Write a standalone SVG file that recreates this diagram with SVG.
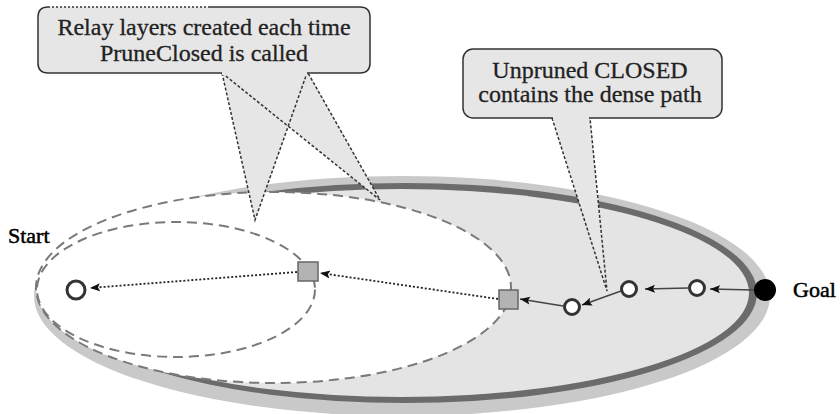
<svg xmlns="http://www.w3.org/2000/svg" width="840" height="414" viewBox="0 0 840 414">
<defs>
<style>
.txt{font-family:"Liberation Serif","Times New Roman",serif;fill:#222;stroke:#222;stroke-width:0.3;}
.lbl{font-family:"Liberation Serif","Times New Roman",serif;fill:#000;font-size:22px;stroke:#000;stroke-width:0.5;}
.dash{fill:#fff;stroke:#7a7a7a;stroke-width:2;stroke-dasharray:10 6;}
.dot{fill:none;stroke:#222;stroke-width:1.8;stroke-dasharray:2 2;}
.sol{fill:none;stroke:#444;stroke-width:1.5;}
.ring{fill:#fff;stroke:#333;stroke-width:3;}
.sq{fill:#b3b3b3;stroke:#666;stroke-width:1.5;}
.box{fill:#e6e6e6;stroke:#333;stroke-width:1.5;}
.tail{fill:#e6e6e6;stroke:none;}
.tline{fill:none;stroke:#333;stroke-width:1.5;stroke-dasharray:3 2;}
</style>
<marker id="ah" viewBox="0 0 10 10" refX="10" refY="5" markerWidth="10" markerHeight="10" markerUnits="userSpaceOnUse" orient="auto">
<path d="M0,1 L10,5 L0,9 L2,5 Z" fill="#111"/>
</marker>
</defs>

<g id="search-region">
<ellipse cx="402" cy="296" rx="368" ry="120" fill="#c9c9c9"/>
<ellipse cx="405" cy="293" rx="352" ry="110" fill="#6b6b6b"/>
<ellipse cx="401" cy="293" rx="348" ry="104" fill="#e4e4e4"/>
</g>

<g id="relay-layer-outer">
<ellipse class="dash" cx="273.5" cy="287.5" rx="237.5" ry="95.5"/>
</g>
<g id="relay-layer-inner">
<ellipse class="dash" cx="176" cy="289.5" rx="139" ry="67.5"/>
</g>

<g id="connectors">
<line class="sol" x1="754" y1="290" x2="710" y2="289" marker-end="url(#ah)"/>
<line class="sol" x1="688" y1="288" x2="645" y2="289" marker-end="url(#ah)"/>
<line class="sol" x1="621" y1="291" x2="582" y2="305" marker-end="url(#ah)"/>
<line class="sol" x1="563" y1="306" x2="520" y2="299" marker-end="url(#ah)"/>
<line class="dot" x1="498" y1="299" x2="320" y2="273" marker-end="url(#ah)"/>
<line class="dot" x1="297" y1="272" x2="90" y2="288" marker-end="url(#ah)"/>
</g>

<g id="start">
<circle class="ring" cx="76" cy="290" r="9" stroke="#111"/>
<text class="lbl" x="8" y="243">Start</text>
</g>
<g id="relay1"><rect class="sq" x="298" y="262" width="20" height="19"/></g>
<g id="relay2"><rect class="sq" x="499" y="290" width="19" height="19"/></g>
<g id="node1"><circle class="ring" cx="572" cy="307" r="7.5"/></g>
<g id="node2"><circle class="ring" cx="629" cy="289" r="7.5"/></g>
<g id="node3"><circle class="ring" cx="697" cy="288" r="7.5"/></g>
<g id="goal">
<circle cx="765" cy="290" r="11" fill="#000"/>
<text class="lbl" x="793" y="297">Goal</text>
</g>

<g id="callout-relay">
<path class="tail" d="M222,72 L255,220 L307,72 Z"/>
<path class="tail" d="M222,72 L380,200 L308,72 Z"/>
<path class="tline" d="M222,73 L255,220 L307,73"/>
<path class="tline" d="M222,73 L380,200 L308,73"/>
<path class="box" d="M210,7 L360,7 Q370,7 370,17 L370,63 Q370,73 360,73 L48,73 Q38,73 38,63 L38,17 Q38,7 48,7"/>
<path fill="#e6e6e6" d="M222,72 L307,72 L307,75 L222,75 Z"/>
<line x1="48" y1="7" x2="210" y2="7" stroke="#333" stroke-width="1.5" stroke-dasharray="2 2"/>
<text class="txt" font-size="24" text-anchor="middle" x="204" y="35">Relay layers created each time</text>
<text class="txt" font-size="24" text-anchor="middle" x="204" y="61">PruneClosed is called</text>
</g>

<g id="callout-closed">
<path class="tail" d="M552,117 L607,291 L590,117 Z"/>
<path class="tline" d="M552,118 L607,291 L590,118"/>
<rect class="box" x="463" y="49" width="259" height="69" rx="10"/>
<path fill="#e6e6e6" d="M553,116 L589,116 L589,120 L553,120 Z"/>
<text class="txt" font-size="24" text-anchor="middle" x="590" y="78">Unpruned CLOSED</text>
<text class="txt" font-size="24" text-anchor="middle" x="590" y="102">contains the dense path</text>
</g>
</svg>
